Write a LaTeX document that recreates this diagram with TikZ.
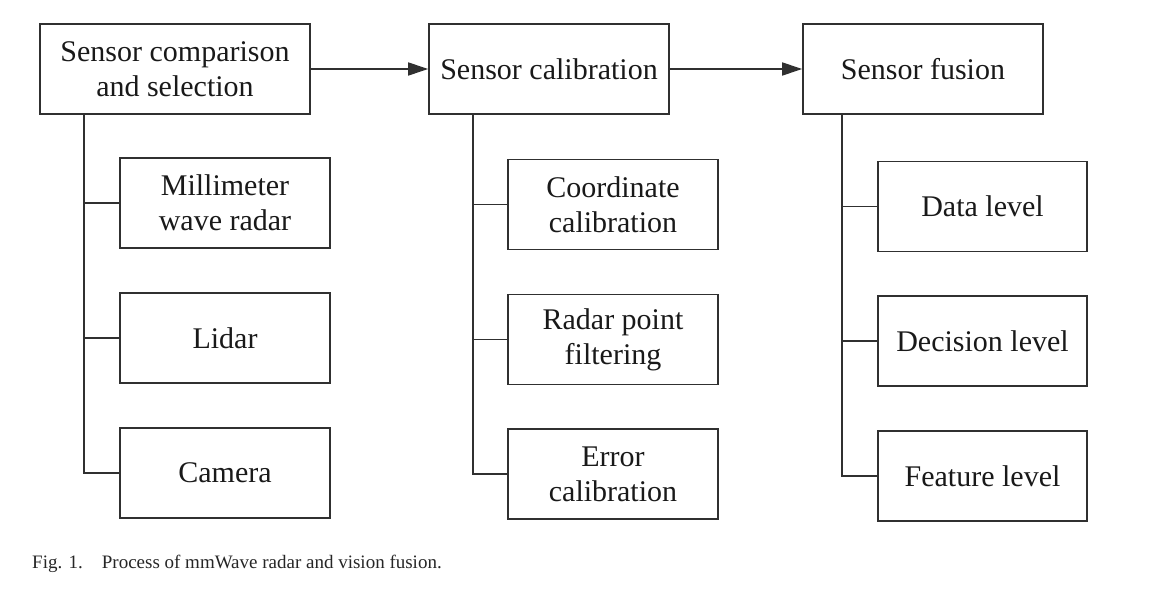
\documentclass[tikz,border=0pt]{standalone}
\usepackage{fontspec}
\setmainfont{Liberation Serif}
\usetikzlibrary{arrows.meta}
\definecolor{ln}{HTML}{303030}
\tikzset{
  box/.style={draw=ln, line width=1.7pt, rectangle, align=center, inner sep=0pt,
    font=\fontsize{30}{35}\selectfont, text=black!90},
  mainbox/.style={box, minimum height=90pt},
  subbox/.style={box, minimum width=210pt, minimum height=90pt},
  conn/.style={draw=ln, line width=1.7pt},
  flow/.style={conn, -{Triangle[length=20pt,width=13pt]}}
}
\begin{document}
\begin{tikzpicture}[x=1pt,y=-1pt]
\useasboundingbox (0,0) rectangle (1157,596);
\node[mainbox, minimum width=270pt] (b1) at (175,69) {Sensor comparison\\and selection};
\node[mainbox, minimum width=240pt] (b2) at (549,69) {Sensor calibration};
\node[mainbox, minimum width=240pt] (b3) at (923,69) {Sensor fusion};

\node[subbox] (c11) at (225,203) {Millimeter\\wave radar};
\node[subbox] (c12) at (225,338) {Lidar};
\node[subbox] (c13) at (225,473) {Camera};

\node[subbox] (c21) at (613,204.5) {Coordinate\\calibration};
\node[subbox] (c22) at (613,339.5) {Radar point\\filtering};
\node[subbox] (c23) at (613,474) {Error\\calibration};

\node[subbox, minimum width=209pt] (c31) at (982.5,206.5) {Data level};
\node[subbox, minimum width=209pt] (c32) at (982.5,341) {Decision level};
\node[subbox, minimum width=209pt] (c33) at (982.5,476) {Feature level};

\draw[flow] (b1.east) -- (b2.west);
\draw[flow] (b2.east) -- (b3.west);

\coordinate (t1) at (84,114);
\coordinate (t2) at (473,114);
\coordinate (t3) at (842,114);

\draw[conn] (t1) |- (c13.west);
\draw[conn] (t1 |- c11.west) -- (c11.west);
\draw[conn] (t1 |- c12.west) -- (c12.west);

\draw[conn] (t2) |- (c23.west);
\draw[conn] (t2 |- c21.west) -- (c21.west);
\draw[conn] (t2 |- c22.west) -- (c22.west);

\draw[conn] (t3) |- (c33.west);
\draw[conn] (t3 |- c31.west) -- (c31.west);
\draw[conn] (t3 |- c32.west) -- (c32.west);

\node[anchor=base west, inner sep=0pt, font=\fontsize{19}{23}\selectfont, text=black!85] (cap) at (32,568) {Fig. 1.\hspace{1em}Process of mmWave radar and vision fusion.};
\end{tikzpicture}
\end{document}
